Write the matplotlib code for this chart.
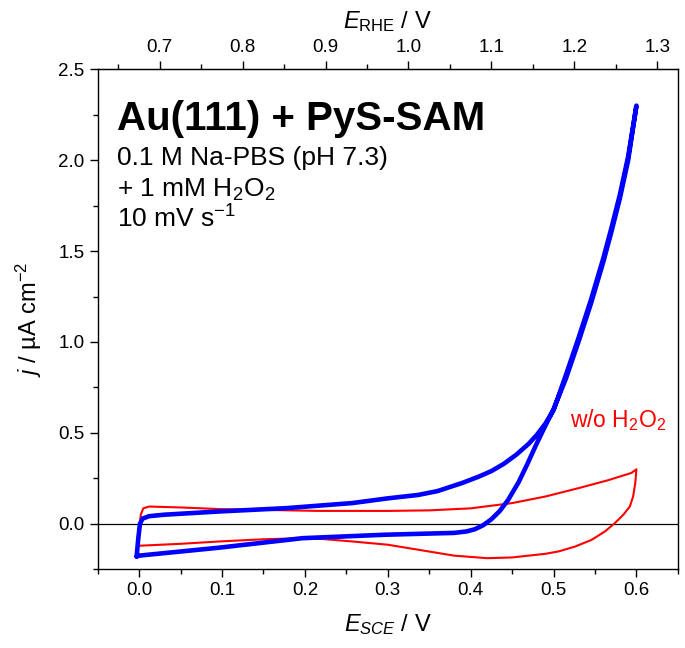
import matplotlib
matplotlib.use('Agg')
import matplotlib.pyplot as plt
from matplotlib.ticker import MultipleLocator, FixedLocator, FormatStrFormatter

plt.rcParams['font.family'] = ['Liberation Sans', 'DejaVu Sans']
plt.rcParams['mathtext.fontset'] = 'custom'
plt.rcParams['mathtext.rm'] = 'Liberation Sans'
plt.rcParams['mathtext.it'] = 'Liberation Sans:italic'
plt.rcParams['mathtext.bf'] = 'Liberation Sans:bold'

# with 1 mM H2O2 (blue), forward then reverse scan
e_h2o2 = [-0.003, -0.001, 0.001, 0.004, 0.012, 0.03, 0.097, 0.177, 0.257, 0.30,
          0.337, 0.36, 0.39, 0.41, 0.425, 0.44, 0.455, 0.47, 0.48, 0.49, 0.50,
          0.515, 0.53, 0.545, 0.56, 0.57, 0.58, 0.59, 0.600,
          0.59, 0.58, 0.57, 0.56, 0.545, 0.53, 0.515, 0.50,
          0.488, 0.478, 0.468, 0.458, 0.445, 0.435, 0.425, 0.415, 0.405, 0.395,
          0.38, 0.297, 0.197, 0.097, 0.0, -0.003]
j_h2o2 = [-0.18, -0.08, 0.0, 0.028, 0.042, 0.05, 0.068, 0.086, 0.114, 0.14,
          0.159, 0.18, 0.225, 0.26, 0.29, 0.33, 0.38, 0.44, 0.49, 0.55, 0.625,
          0.82, 1.02, 1.23, 1.46, 1.63, 1.81, 2.02, 2.30,
          2.00, 1.79, 1.61, 1.44, 1.21, 1.00, 0.80, 0.63,
          0.52, 0.425, 0.325, 0.23, 0.13, 0.07, 0.025, -0.008, -0.03, -0.042,
          -0.05, -0.06, -0.079, -0.131, -0.175, -0.18]

# without H2O2 (red)
e_blank = [-0.002, 0.0, 0.002, 0.005, 0.012, 0.05, 0.097, 0.217, 0.30, 0.35,
           0.40, 0.45, 0.49, 0.53, 0.566, 0.594, 0.600,
           0.5986, 0.596, 0.592, 0.584, 0.574, 0.562, 0.546, 0.526, 0.506,
           0.49, 0.45, 0.42, 0.38, 0.34, 0.30, 0.257, 0.22, 0.197, 0.15,
           0.097, 0.05, -0.002]
j_blank = [-0.121, -0.05, 0.05, 0.085, 0.095, 0.09, 0.081, 0.071, 0.071, 0.074,
           0.085, 0.114, 0.15, 0.196, 0.24, 0.28, 0.30,
           0.224, 0.15, 0.095, 0.049, 0.004, -0.042, -0.088, -0.125, -0.152,
           -0.165, -0.185, -0.189, -0.175, -0.145, -0.115, -0.097, -0.083, -0.079, -0.085,
           -0.097, -0.11, -0.121]

rhe_offset = 0.675
rhe_ticks = [0.7, 0.8, 0.9, 1.0, 1.1, 1.2, 1.3]
rhe_minor = [0.65, 0.75, 0.85, 0.95, 1.05, 1.15, 1.25]

fig = plt.figure(figsize=(6.85, 6.48), dpi=100)
ax = fig.add_axes([0.1426, 0.1215, 0.847, 0.7716])

ax.axhline(0, color='black', lw=0.9, zorder=1)
ax.plot(e_blank, j_blank, color='#ff0000', lw=1.5, zorder=2)
ax.plot(e_h2o2, j_h2o2, color='#0000ff', lw=3.3, solid_joinstyle='round',
        solid_capstyle='round', zorder=3)

ax.set_xlim(-0.05, 0.65)
ax.set_ylim(-0.25, 2.5)
ax.xaxis.set_major_locator(MultipleLocator(0.1))
ax.xaxis.set_minor_locator(MultipleLocator(0.05))
ax.yaxis.set_major_locator(MultipleLocator(0.5))
ax.yaxis.set_minor_locator(MultipleLocator(0.25))
ax.xaxis.set_major_formatter(FormatStrFormatter('%.1f'))
ax.yaxis.set_major_formatter(FormatStrFormatter('%.1f'))
ax.tick_params(which='major', direction='out', length=6, width=1, labelsize=13.5)
ax.tick_params(which='minor', direction='out', length=3.5, width=1)
for s in ax.spines.values():
    s.set_linewidth(1.0)

ax.set_xlabel(r'$E_{SCE}$ / V', fontsize=17, labelpad=9)
ax.set_ylabel(r'$j$ / µA cm$^{-2}$', fontsize=17, labelpad=10)

top = ax.secondary_xaxis('top', functions=(lambda e: e + rhe_offset,
                                            lambda e: e - rhe_offset))
top.xaxis.set_major_locator(FixedLocator(rhe_ticks))
top.xaxis.set_minor_locator(FixedLocator(rhe_minor))
top.xaxis.set_major_formatter(FormatStrFormatter('%.1f'))
top.tick_params(which='major', direction='out', length=6, width=1, labelsize=13.5)
top.tick_params(which='minor', direction='out', length=3.5, width=1)
top.set_xlabel(r'$E_{\mathrm{RHE}}$ / V', fontsize=17, labelpad=8)

ax.text(0.033, 0.879, 'Au(111) + PyS-SAM', transform=ax.transAxes,
        fontsize=29, fontweight='bold', va='baseline')
ax.text(0.033, 0.809, '0.1 M Na-PBS (pH 7.3)', transform=ax.transAxes,
        fontsize=19, va='baseline')
ax.text(0.033, 0.745, r'+ 1 mM H$_2$O$_2$', transform=ax.transAxes,
        fontsize=19, va='baseline')
ax.text(0.033, 0.683, r'10 mV s$^{-1}$', transform=ax.transAxes,
        fontsize=19, va='baseline')
ax.text(0.814, 0.285, r'w/o H$_2$O$_2$', transform=ax.transAxes,
        fontsize=16.5, color='#ff0000', va='baseline')

fig.savefig('out.png', dpi=100)
